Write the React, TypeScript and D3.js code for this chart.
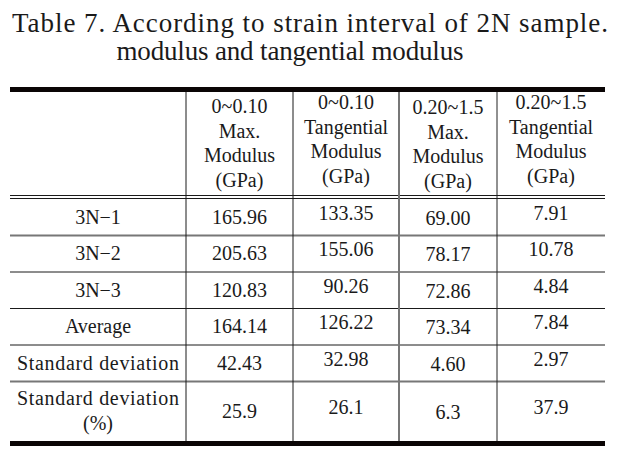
import React from 'react';
import * as d3 from 'd3';

// table content
const titleLines = ['Table 7. According to strain interval of 2N sample.', 'modulus and tangential modulus'];
const headers = [
  ['0~0.10', 'Max.', 'Modulus', '(GPa)'],
  ['0~0.10', 'Tangential', 'Modulus', '(GPa)'],
  ['0.20~1.5', 'Max.', 'Modulus', '(GPa)'],
  ['0.20~1.5', 'Tangential', 'Modulus', '(GPa)'],
];
const categories = [['3N−1'], ['3N−2'], ['3N−3'], ['Average'], ['Standard deviation'], ['Standard deviation', '(%)']];
const maxMod010 = [165.96, 205.63, 120.83, 164.14, 42.43, 25.9];
const tanMod010 = [133.35, 155.06, 90.26, 126.22, 32.98, 26.1];
const maxMod0215 = [69.0, 78.17, 72.86, 73.34, 4.6, 6.3];
const tanMod0215 = [7.91, 10.78, 4.84, 7.84, 2.97, 37.9];
const rowDecimals = [2, 2, 2, 2, 2, 1];

const series = [maxMod010, tanMod010, maxMod0215, tanMod0215];

// layout
const W = 625;
const H = 449;
const colWidths = [176, 107, 106, 98, 108];
const left = 10;
const headerTop = 92;
const headerBottom = 195;
const bodyTop = 199;
const rowHeights = [36.5, 36.5, 36.5, 36.5, 36.5, 59.5];
const colShift = [0, -4, 1, -4];
const fontSize = 20;
const font = '"Liberation Serif", "Times New Roman", serif';
const ink = '#1a1a1a';

export default function App() {
  const colEdges = [left, ...Array.from(d3.cumsum(colWidths)).map((d) => left + d)];
  const rowEdges = [bodyTop, ...Array.from(d3.cumsum(rowHeights)).map((d) => bodyTop + d)];
  const right = colEdges[colEdges.length - 1];
  const bottom = rowEdges[rowEdges.length - 1];
  const cx = (i: number) => (colEdges[i] + colEdges[i + 1]) / 2;
  const cy = (i: number) => (rowEdges[i] + rowEdges[i + 1]) / 2;
  const fmt = (v: number, r: number) => d3.format(`.${rowDecimals[r]}f`)(v);

  // line styles between body rows
  const rowLineStyle = [
    { stroke: '#777', w: 2 },
    { stroke: ink, w: 1 },
    { stroke: ink, w: 1 },
    { stroke: ink, w: 1 },
    { stroke: '#777', w: 2 },
  ];
  const colLineStyle = [
    { stroke: ink, w: 1 },
    { stroke: ink, w: 1 },
    { stroke: '#777', w: 2 },
    { stroke: '#222', w: 1 },
  ];
  const lineGap = 24.7;

  return (
    <svg width={W} height={H} style={{ position: 'absolute', left: 0, top: 0, background: '#fff' }}
      fontFamily={font} fill={ink}>
      <text x={310} y={32} fontSize={27} textAnchor="middle" textLength={596} lengthAdjust="spacing">
        {titleLines[0]}
      </text>
      <text x={290} y={60} fontSize={27} textAnchor="middle" textLength={347} lengthAdjust="spacing">
        {titleLines[1]}
      </text>

      {/* thick rules */}
      <rect x={left} y={87} width={right - left} height={5} fill="#0a0505" />
      <rect x={left} y={441} width={right - left} height={5} fill="#0a0505" />
      {/* double rule under header */}
      <line x1={left} x2={right} y1={195.5} y2={195.5} stroke={ink} strokeWidth={1} />
      <line x1={left} x2={right} y1={198.5} y2={198.5} stroke={ink} strokeWidth={1} />

      {rowLineStyle.map((s, i) => (
        <line key={'r' + i} x1={left} x2={right} y1={rowEdges[i + 1]} y2={rowEdges[i + 1]}
          stroke={s.stroke} strokeWidth={s.w} />
      ))}
      {colLineStyle.map((s, i) => (
        <line key={'c' + i} x1={colEdges[i + 1]} x2={colEdges[i + 1]} y1={92} y2={bottom}
          stroke={s.stroke} strokeWidth={s.w} />
      ))}

      {/* header */}
      {headers.map((lines, c) => {
        const mid = (headerTop + headerBottom) / 2 + colShift[c];
        return lines.map((t, k) => (
          <text key={`h${c}-${k}`} x={cx(c + 1)} fontSize={fontSize} textAnchor="middle"
            y={mid + (k - (lines.length - 1) / 2) * lineGap + 6.5}>
            {t}
          </text>
        ));
      })}

      {/* row labels */}
      {categories.map((lines, r) =>
        lines.map((t, k) => (
          <text key={`l${r}-${k}`} x={cx(0)} fontSize={fontSize} textAnchor="middle"
            y={cy(r) + (k - (lines.length - 1) / 2) * lineGap + 6.5}
            textLength={t.includes(' ') ? 162 : undefined} lengthAdjust="spacing">
            {t}
          </text>
        ))
      )}

      {/* values */}
      {series.map((vals, c) =>
        vals.map((v, r) => (
          <text key={`v${c}-${r}`} x={cx(c + 1)} y={cy(r) + 6.5 + colShift[c]} fontSize={fontSize}
            textAnchor="middle">
            {fmt(v, r)}
          </text>
        ))
      )}
    </svg>
  );
}
